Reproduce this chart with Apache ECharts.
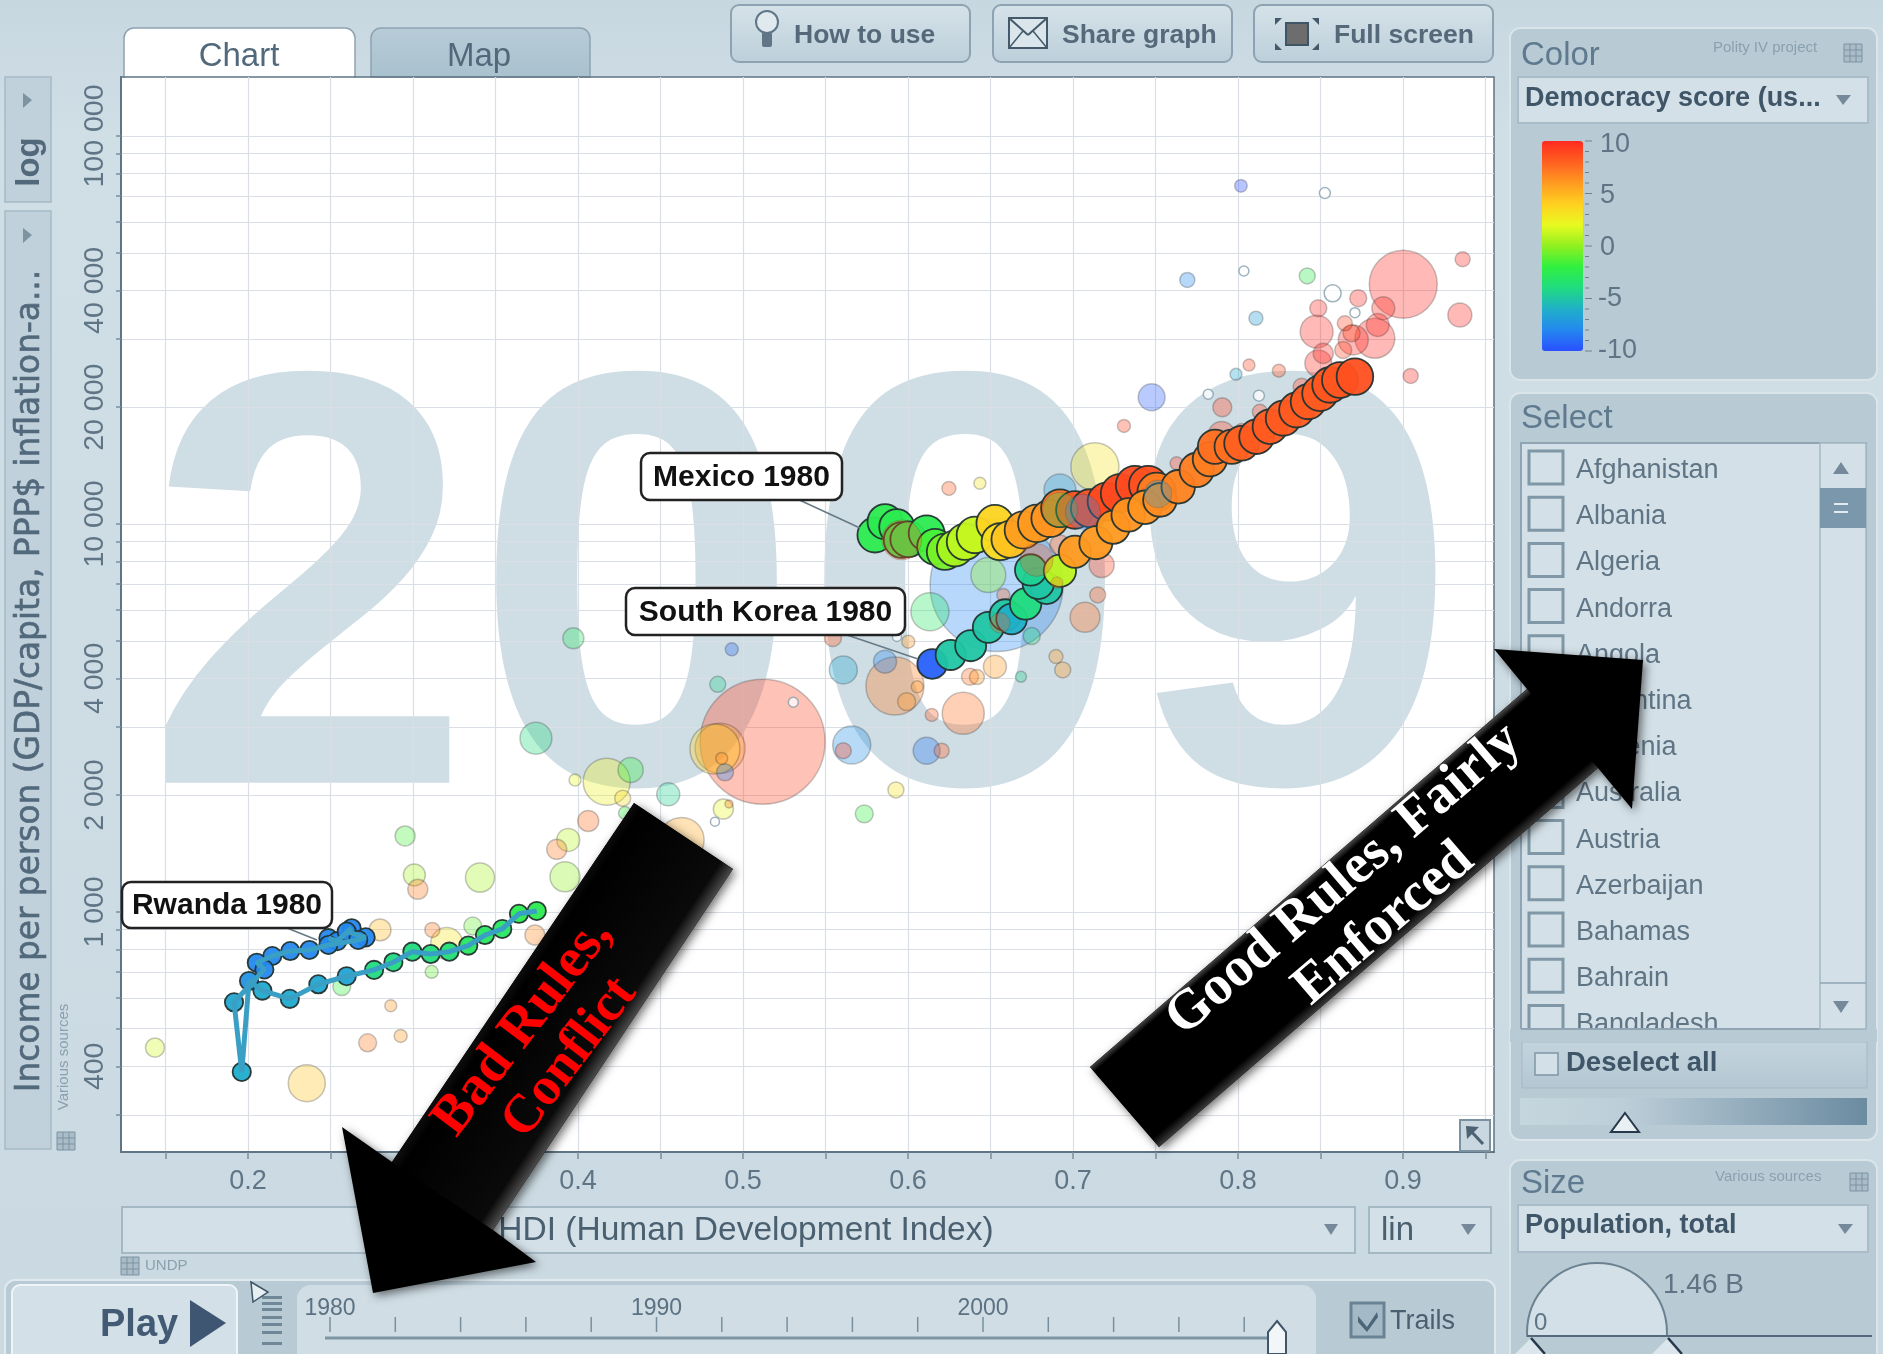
<!DOCTYPE html>
<html>
<head>
<meta charset="utf-8">
<title>Income per person vs HDI, 2009</title>
<style>html,body{margin:0;padding:0;background:#cddce4}#c{width:1883px;height:1354px}</style>
<script src="https://cdn.jsdelivr.net/npm/echarts@6/dist/echarts.min.js"></script>
</head>
<body>
<div id="c"></div>
<script>
// Every row: [HDI, income per person, democracy score, population in millions]
const mexicoTrail = [[.58,9369,-2.5,92],[.5861,10137,-2.5,92],[.5932,9839,-2.5,92],[.5962,9094,-2.5,96],[.6002,9130,-2.5,96],[.6113,9462,-2.5,96],[.6164,8737,-1.5,96],[.6224,8481,-.5,98],[.6285,8650,.5,98],[.6345,9000,1,98],[.6406,9369,1.2,100],[.6527,10035,3.8,102],[.6558,9000,3.5,102],[.6618,9130,4.5,102],[.6699,9650,5.8,104],[.678,10035,6,104],[.6861,10340,6.2,104],[.6921,10977,7.5,106],[.7012,10870,8.4,106],[.7103,10977,8.6,108],[.7204,11420,8.8,108],[.7285,11990,8.8,110],[.7376,12600,8.8,110],[.7456,12600,8.6,110],[.7507,12100,7,110]];
const southKoreaTrail = [[.6147,4357,-9.4,66],[.6259,4597,-5,68],[.638,4855,-5,72],[.6487,5415,-5,72],[.659,5826,-5,74],[.6628,5690,-6,70],[.6713,6220,-4,74],[.684,6825,-5,74],[.679,7031,-5,74],[.6744,7610,-4.5,74],[.6921,7578,1,78],[.7012,8481,6,78],[.7139,8948,6,82],[.7244,9804,6,82],[.7335,10550,6.2,84],[.7436,11040,6.2,84],[.7527,11530,6.5,84],[.7638,12470,6.8,84],[.775,13780,7,88],[.783,14680,7,88],[.7861,15810,7.5,88],[.7962,15810,7.5,88],[.8022,16140,8,90],[.8113,16790,8.2,90],[.8194,17810,8.2,90],[.8275,18730,8.2,92],[.8356,19670,8.2,92],[.8426,20660,8.2,92],[.8497,21700,8.2,94],[.8558,22810,8.4,94],[.8618,23500,8.4,96],[.8709,23970,8.6,100]];
const rwandaTrail = [[.2487,856,-8,25],[.2541,841,-8,25],[.2628,908,-8,25],[.2598,890,-8,25],[.2713,860,-8,25],[.2668,847,-8,25],[.2487,822,-8,25],[.2372,798,-8,25],[.2256,793,-8,25],[.2147,770,-8,25],[.2053,740,-8,25],[.2099,711,-8,25],[.1915,585,-6.4,25],[.1962,387,-6.2,25],[.2006,664,-7.5,25],[.2087,627,-6.3,25],[.2253,597,-6.3,25],[.2426,651,-6.5,25],[.2598,683,-6.6,25],[.2764,709,-4,25],[.2881,742,-4,25],[.2996,790,-4,25],[.3107,779,-3.8,25],[.322,790,-3.8,25],[.3335,819,-3,25],[.3436,872,-3,25],[.3541,904,-3,25],[.3642,989,-2.5,25],[.375,1006,-2.5,25]];
const democracyBubbles = [
 [.8018,74400,-10,12],[.7693,42550,-8,17],[.842,43580,-2.5,19],[.8729,38190,10,21.6],[.9002,41470,10,345],[.9362,48110,10,17],[.9345,34570,10,43],[.8487,35980,10,21.6],[.8477,31300,10,81],[.8881,35980,10,39],[.8847,32570,10,39],[.8648,32900,9,17],[.8689,30990,9,21.6],[.883,30100,10,119],[.8699,29800,10,67],[.8517,27520,10,30],[.8638,28080,9,21.6],[.8487,25940,10,54],[.8109,33900,-7,14.6],[.8067,25680,9,10.7],[.8248,24830,8.5,12.6],[.7988,24300,-6.5,10.7],[.9047,24070,10,17],[.7477,21210,-9.5,54],[.7905,19980,9,27],[.7309,17890,9,12.6],[.8133,19460,9,17],[.8386,22580,9,21.6],[.7901,16960,9,54],[.8022,17470,9,12.6],
 [.6248,12350,8,14.6],[.6436,12730,3,10.7],[.7133,14050,3,172],[.6921,12230,-7,76],[.6487,7385,0,91],[.6537,6960,-8,1320],[.6133,5940,-3,108],[.6002,4973,6,12.6],[.5608,4205,-6.5,58.5],[.5861,4417,-8,39.5],[.5921,3823,7,251],[.6056,3807,6,10.7],[.5992,3484,6,24],[.6144,3220,8,12.6],[.6335,3250,7.5,132],[.6527,4287,6,39.5],[.6376,4038,7.5,21.6],[.6418,4030,6,16.8],[.6685,4038,-4.5,9],[.6897,4551,6,14.6],[.6938,4205,6,19],[.7073,5748,7.5,67],[.715,6563,8,19],[.7174,7838,9,47],[.675,5144,-4,21.6],[.6578,6563,8,12.6],[.6921,8827,8,30],[.7628,14330,9,12.6],
 [.4932,4751,-9,12.6],[.4847,3861,-4.5,19],[.5119,2747,9,1166],[.4861,2641,6,187],[.483,2630,4,187],[.4871,2488,6.5,10.7],[.4891,2290,-8,21.6],[.5659,2693,-7.5,108],[.5608,2604,9,19],[.6113,2604,-8.5,54],[.6204,2604,8,16.8],[.5927,2063,3,19],[.5735,1790,-2,24],[.4881,1842,2,30],[.4915,1898,7,4.8],[.4628,1533,5.5,151],[.5545,5083,8,21.6],
 [.3972,5074,-3,33],[.3745,2803,-4,76],[.3982,2189,2,10.7],[.4174,2167,2.5,165],[.4319,2323,-2,47],[.4271,1964,3.5,19],[.4547,2010,-4.5,39.5],[.4062,1716,7.5,33],[.4285,1799,-2,12.6],[.3941,1533,1,39.5],[.3871,1450,7,30],[.3921,1232,0,67],[.2952,1570,-1.5,30],[.3008,1245,.5,36],[.3029,1144,7,30],[.3406,1226,.5,63],
 [.1436,447,1.5,27],[.2356,362,4.5,102],[.28,899,5,36],[.3117,899,7,16.8],[.3204,830,3,76],[.3362,920,-1,24],[.3113,701,-1,12.6],[.2568,642,-2,24],[.2865,573,6,10.7],[.2925,479,6,12.6],[.2725,460,7,24],[.3739,872,6.5,30]
];
const noScoreBubbles = [[.8527,71270,0,9],[.8036,44860,0,7.5],[.8574,39300,0,21.6],[.8709,35040,0,7.5],[.782,21590,0,7.5],[.8127,21410,0,9],[.5305,3471,0,7.5],[.483,1709,0,6],[.5933,5115,0,6]];
const frontBubbles = [[.5962,9094,8,119],[.6921,10870,-3,91],[.706,10750,-8,91],[.7515,11950,-7,58],[.6558,5560,8,30],[.6903,7050,7,10.7],[.678,8075,8,81]];
const xTickLabels = [0.2,0.3,0.4,0.5,0.6,0.7,0.8,0.9];
const xGridValues = [0.15,0.2,0.25,0.3,0.35,0.4,0.45,0.5,0.55,0.6,0.65,0.7,0.75,0.8,0.85,0.9,0.95];
const yTickLabels = [400,1000,2000,4000,10000,20000,40000,100000];
const yGridValues = [300,400,500,600,700,800,900,1000,2000,3000,4000,5000,6000,7000,8000,9000,10000,20000,30000,40000,50000,60000,70000,80000,90000,100000];
const colorScale = ['#2a50ff','#2488ef','#20b0c8','#20dc80','#30f040','#90f020','#e8fa20','#ffd020','#ff9a20','#ff6020','#ff2a20'];
const colorTicks = [10,5,0,-5,-10];
const selectCountries = ['Afghanistan','Albania','Algeria','Andorra','Angola','Argentina','Armenia','Australia','Austria','Azerbaijan','Bahamas','Bahrain','Bangladesh'];
const timeYears = [1980,1990,2000];

const SANS='"Liberation Sans",Arial,sans-serif', SERIF='"Liberation Serif","Times New Roman",serif';
const chart = echarts.init(document.getElementById('c'),null,{renderer:'canvas',width:1883,height:1354});
const LG=(x,y,x2,y2,stops,g)=>new echarts.graphic.LinearGradient(x,y,x2,y2,stops.map((c,i)=>({offset:c[0],color:c[1]})),g);
const R=(x,y,w,h,fill,o={})=>({type:'rect',silent:true,z:o.z??-5,shape:{x,y,width:w,height:h,r:o.r||0},style:{fill,stroke:o.stroke,lineWidth:o.lw||1,shadowBlur:o.sb||0,shadowColor:o.sc}});
const T=(x,y,text,size,color,o={})=>{const dy=(o.rot||(o.z||0)>=30)?0:2.5;return {type:'text',silent:true,z:o.z??-4,x,y:y+dy,rotation:o.rot||0,style:{text,x:0,y:0,fill:color,fontSize:size,fontFamily:o.ff||SANS,fontWeight:o.w||'normal',align:o.a||'left',verticalAlign:'middle',textAlign:o.a||'left',textVerticalAlign:'middle',stroke:o.stroke,lineWidth:o.slw||0,lineHeight:o.lh}};};
const P=(pts,fill,o={})=>({type:'polygon',silent:true,z:o.z??-4,shape:{points:pts},style:{fill,stroke:o.stroke,lineWidth:o.lw||1,shadowBlur:o.sb||0,shadowColor:o.sc,shadowOffsetX:o.ox||0,shadowOffsetY:o.oy||0}});
const L=(a,b,c,d,color,lw=1,z=-4)=>({type:'line',silent:true,z,shape:{x1:a,y1:b,x2:c,y2:d},style:{stroke:color,lineWidth:lw}});
const C=(x,y,r,fill,o={})=>({type:'circle',silent:true,z:o.z??-4,shape:{cx:x,cy:y,r},style:{fill,stroke:o.stroke,lineWidth:o.lw||1}});
const gridIcon=(x,y,z=-4)=>{const e=[R(x-9,y-9,18,18,'#aabcc8',{stroke:'#7d93a2',z})];for(let i=1;i<3;i++){e.push(L(x-9+6*i,y-9,x-9+6*i,y+9,'#7d93a2',1,z));e.push(L(x-9,y-9+6*i,x+9,y-9+6*i,'#7d93a2',1,z));}return e;};
const INK='#52697c', BOLD='#3f5568', FAINT='#8ba0ae', FIELD='#d3e0e7', PANEL='#b8cbd5';
const g=[];
// page
g.push(R(0,0,1883,1354,LG(0,0,0,1,[[0,'#c7d7e0'],[.1,'#d0dee6'],[1,'#cbdae2']]),{z:-10}));
// plot background + watermark
g.push(R(121,77,1373,1075,'#ffffff',{z:-9}));
g.push({type:'text',silent:true,z:-8,x:801,y:620,style:{text:'2009',x:0,y:0,fill:'#cfdde5',fontSize:590,fontFamily:SANS,fontWeight:'bold',align:'center',verticalAlign:'middle',textAlign:'center',textVerticalAlign:'middle'}});
// tabs
g.push(R(124,28,231,49,'#ffffff',{r:[10,10,0,0],stroke:'#8ea3b1',lw:1.5,z:-7}));
g.push(R(125,60,229,20,'#ffffff',{z:-7}));
g.push(T(239,54,'Chart',33,INK,{a:'center'}));
g.push(R(371,28,219,49,LG(0,0,0,1,[[0,'#b7ccd7'],[1,'#a9c1ce']]),{r:[10,10,0,0],stroke:'#8ea3b1',lw:1.5}));
g.push(T(479,54,'Map',33,INK,{a:'center'}));
// top buttons
[[731,239,'How to use',794],[993,239,'Share graph',1062],[1254,239,'Full screen',1334]].forEach(b=>{
 g.push(R(b[0],5,b[1],57,LG(0,0,0,1,[[0,'#d6e2e9'],[1,'#bccfda']]),{r:8,stroke:'#8ea3b1',lw:2}));
 g.push(T(b[3],33,b[2],26.5,'#55697a',{w:'bold'}));
});
g.push(C(767,22,11,'#dfe9ee',{stroke:'#607686',lw:2}));g.push(R(762,32,10,15,'#607686',{r:2,z:-3}));
g.push(R(1009,18,38,30,'#dbe6ec',{stroke:'#445a6a',lw:2}));g.push(L(1009,18,1028,35,'#445a6a',2));g.push(L(1047,18,1028,35,'#445a6a',2));g.push(L(1009,48,1023,31,'#445a6a',1.5));g.push(L(1047,48,1033,31,'#445a6a',1.5));
g.push(R(1286,23,22,22,'#6d6d6d',{stroke:'#3e5565',lw:2}));
[[1275,18,1],[1319,18,-1]].forEach(a=>{g.push(P([[a[0],a[1]],[a[0]+7*a[2],a[1]],[a[0],a[1]+7]],'#445a6a'));g.push(P([[a[0],a[1]+32],[a[0]+7*a[2],a[1]+32],[a[0],a[1]+25]],'#445a6a'));});
// y-axis side boxes
g.push(R(5,77,46,125,'#c0d1db',{stroke:'#a5bac6',lw:1.5}));
g.push(P([[23,93],[32,100],[23,108]],'#7d93a2'));
g.push(T(30,162,'log',33,INK,{rot:Math.PI/2,a:'center',w:'bold'}));
g.push(R(5,211,46,938,'#c0d1db',{stroke:'#a5bac6',lw:1.5}));
g.push(P([[23,228],[32,235],[23,243]],'#7d93a2'));
g.push(T(30,681,'Income per person (GDP/capita, PPP$ inflation-a...',32.8,INK,{rot:Math.PI/2,a:'center',ff:'"DejaVu Sans",sans-serif',stroke:INK,slw:.6}));
g.push(T(64,1057,'Various sources',15,FAINT,{rot:Math.PI/2,a:'center'}));
g.push(...gridIcon(66,1141));
// x selector
g.push(R(122,1207,1233,46,FIELD,{stroke:'#a5b9c5',lw:2}));
g.push(T(746,1228,'HDI (Human Development Index)',33.5,'#4a5f70',{a:'center'}));
g.push(P([[1324,1224],[1338,1224],[1331,1235]],'#75899a'));
g.push(R(1369,1207,122,46,FIELD,{stroke:'#a5b9c5',lw:2}));
g.push(T(1381,1228,'lin',33,'#4a5f70'));
g.push(P([[1461,1224],[1476,1224],[1468,1235]],'#75899a'));
g.push(...gridIcon(130,1266));
g.push(T(145,1263,'UNDP',15,FAINT));
// play bar
g.push(R(5,1280,1490,90,PANEL,{r:10,stroke:'#dfe9ee',lw:2}));
g.push(R(12,1285,225,80,FIELD,{r:8,stroke:'#eef4f7',lw:2}));
g.push(T(100,1323,'Play',38,'#435a74',{w:'bold'}));
g.push(P([[190,1300],[226,1323],[190,1347]],'#3f5672'));
[1296,1302,1308,1316,1323,1331,1342].forEach(y=>g.push(R(262,y,20,3,'#6f8796')));
g.push(P([[251,1282],[268,1292],[253,1302]],'#e7eff3',{stroke:'#3f5568',lw:1.5,z:-3}));
g.push(R(297,1285,1019,80,'#d0dde5',{r:14}));
timeYears.forEach((y,i)=>g.push(T(330+i*326.5,1306,String(y),23,'#5c7182',{a:'center'})));
for(let i=0;i<15;i++){const x=330+i*65.3;g.push(L(x,1317,x,1332,'#7a8f9d',1.5));}
g.push(L(325,1338,1277,1338,'#7e96a4',3));
g.push(P([[1277,1321],[1286,1332],[1286,1354],[1268,1354],[1268,1332]],'#f2f6f8',{stroke:'#3f5568',lw:2,z:-3}));
g.push(R(1351,1303,33,34,'#a4b9c6',{stroke:'#6a8394',lw:3}));
g.push(P([[1358,1316],[1367,1327],[1377,1312],[1378,1317],[1367,1332],[1358,1322]],'#4c6679',{z:-3}));
g.push(T(1390,1319,'Trails',27,'#4a5f70'));
// color panel
g.push(R(1510,28,367,352,PANEL,{r:10,stroke:'#dae5ea',lw:2}));
g.push(T(1521,53,'Color',33,'#5f7a8e'));
g.push(T(1713,45,'Polity IV project',15,FAINT));
g.push(...gridIcon(1853,53));
g.push(R(1518,77,350,46,FIELD,{stroke:'#a9bcc8',lw:2}));
g.push(T(1525,96,'Democracy score (us...',27,BOLD,{w:'bold'}));
g.push(P([[1836,95],[1851,95],[1843,105]],'#75899a'));
for(let i=0;i<=20;i++){const y=141+i*10.5;g.push(L(1585,y,i%5==0?1592:1589,y,'#6d8291',1));}
colorTicks.forEach((v,i)=>g.push(T(v<0?1598:1600,142+i*51.5,String(v),27,'#5f7484')));
// select panel
g.push(R(1510,393,367,747,PANEL,{r:10,stroke:'#dae5ea',lw:2}));
g.push(T(1521,416,'Select',33,'#5f7a8e'));
g.push(R(1521,443,345,586,FIELD,{stroke:'#8fa5b3',lw:2}));
selectCountries.forEach((c,i)=>{const y=468+i*46.2;g.push(R(1529,y-17,34,33,'#d3e0e7',{stroke:'#7f97a6',lw:3}));g.push(T(1576,y,c,27,'#5f7484'));});
g.push(R(1510,1029,367,13,PANEL,{z:-3}));
g.push(L(1521,1029,1866,1029,'#8fa5b3',2,-3));
g.push(R(1820,443,46,586,FIELD,{stroke:'#a5b9c5',lw:1.5,z:-3}));
g.push(P([[1833,474],[1849,474],[1841,462]],'#75899a',{z:-2}));
g.push(R(1820,488,46,40,'#7b97ab',{z:-2}));g.push(L(1834,504,1848,504,'#e2ebf0',2,-1));g.push(L(1834,512,1848,512,'#e2ebf0',2,-1));
g.push(L(1820,983,1866,983,'#8fa5b3',1.5,-2));
g.push(P([[1833,1001],[1849,1001],[1841,1013]],'#75899a',{z:-2}));
g.push(R(1522,1042,345,46,LG(0,0,0,1,[[0,'#c4d4dd'],[1,'#b3c7d2']]),{stroke:'#a5b9c5'}));
g.push(R(1535,1053,23,22,'#d3e0e7',{stroke:'#7f97a6',lw:1.5}));
g.push(T(1566,1061,'Deselect all',27.5,BOLD,{w:'bold'}));
g.push(R(1520,1098,347,27,LG(0,0,1,0,[[0,'#c6d6de'],[.3,'#bcced8'],[1,'#6b8ba1']])));
g.push(P([[1625,1113],[1639,1132],[1611,1132]],'#e9f0f4',{stroke:'#26384a',lw:2,z:-3}));
// size panel
g.push(R(1510,1160,367,210,PANEL,{r:10,stroke:'#dae5ea',lw:2}));
g.push(T(1521,1181,'Size',33,'#5f7a8e'));
g.push(T(1715,1174,'Various sources',15,FAINT));
g.push(...gridIcon(1859,1182));
g.push(R(1518,1205,350,47,FIELD,{stroke:'#a9bcc8',lw:2}));
g.push(T(1525,1223,'Population, total',27,BOLD,{w:'bold'}));
g.push(P([[1838,1224],[1853,1224],[1845,1234]],'#75899a'));
g.push(C(1597,1333,70,FIELD,{stroke:'#6d8291',lw:2}));
g.push(R(1512,1337,360,30,PANEL,{z:-3}));
g.push(L(1527,1336,1872,1336,'#55697a',2,-2));
g.push(T(1663,1283,'1.46 B',28,'#5f7484',{z:-2}));
g.push(T(1534,1321,'0',24,'#5f7484',{z:-2}));
[1531,1668].forEach(x=>{g.push(P([[x,1338],[x+16,1354],[x-16,1354]],'#dbe6ec',{z:-2}));g.push(L(x,1338,x+14,1354,'#26384a',2.5,-1));});
// corner icon
g.push(R(1460,1120,30,31,'#c9d8e0',{stroke:'#7b919f',lw:2,z:20}));
g.push(L(1468,1128,1483,1144,'#4d6374',3,21));g.push(P([[1466,1126],[1479,1127],[1467,1139]],'#4d6374',{z:21}));
// callouts
const callout=(x,y,w,h,text,lx1,ly1,lx2,ly2)=>{g.push(L(lx1,ly1,lx2,ly2,'#667a86',1.5,30));g.push(R(x,y,w,h,'#ffffff',{r:9,stroke:'#222',lw:2.5,z:31}));g.push(T(x+w/2,y+h/2+1,text,30,'#111',{a:'center',w:'bold',z:32}));};
callout(641,453,201,47,'Mexico 1980',795,498,860,528);
callout(626,588,279,47,'South Korea 1980',847,635,918,659);
callout(122,882,210,46,'Rwanda 1980',287,928,317,940);
// arrows: a black silhouette with its shadow, then the lit shaft
const shadow={sb:10,sc:'rgba(0,0,0,.55)',ox:3,oy:3,z:40};
g.push(P([[634,803],[733,869],[493,1230],[536,1262],[373,1293],[342,1127],[392,1162]],'#000',shadow));
g.push(P([[634,803],[733,869],[493,1230],[392,1162]],LG(634,803,733,869,[[0,'#0c0c0c'],[.08,'#000'],[.88,'#0a0a0a'],[1,'#4a4a4a']],true),{z:40}));
g.push(P([[1643,660],[1632,809],[1598,768],[1159,1147],[1090,1067],[1527,689],[1494,649]],'#000',shadow));
g.push(P([[1598,768],[1159,1147],[1090,1067],[1527,689]],LG(1090,1067,1159,1147,[[0,'#444'],[.06,'#000'],[.9,'#000'],[1,'#3a3a3a']],true),{z:40}));
g.push(T(523,1027,'Bad Rules,',56,'#ff0000',{rot:.92,a:'center',w:'bold',ff:SERIF,z:41}));
g.push(T(570,1058,'Conflict',54,'#ff0000',{rot:.92,a:'center',w:'bold',ff:SERIF,z:41}));
g.push(T(1344,880,'Good Rules, Fairly',55.5,'#ffffff',{rot:.71,a:'center',w:'bold',ff:SERIF,z:41}));
g.push(T(1384,924,'Enforced',55.5,'#ffffff',{rot:.71,a:'center',w:'bold',ff:SERIF,z:41}));

const bySize=a=>a.slice().sort((p,q)=>q[3]-p[3]);
const size=v=>3.66*Math.sqrt(v[3]);
const pale={opacity:.33,borderColor:'rgba(40,40,40,.8)',borderWidth:1.5};
const trail={opacity:.95,borderColor:'#233330',borderWidth:1.8};
const scatter=(name,data,itemStyle)=>({name,type:'scatter',data,symbolSize:size,itemStyle,animation:false,silent:true});
const series=[
 scatter('Countries',bySize(democracyBubbles),pale),
 {name:'No score',type:'scatter',data:bySize(noScoreBubbles),symbolSize:size,animation:false,silent:true,itemStyle:{color:'#ffffff',opacity:.75,borderColor:'#7f9aa8',borderWidth:1.5}},
 {name:'Rwanda path',type:'line',data:rwandaTrail,symbol:'none',animation:false,silent:true,lineStyle:{color:'#3a9fc4',width:5}},
 scatter('Mexico',mexicoTrail,trail),
 scatter('South Korea',southKoreaTrail,trail),
 scatter('Rwanda',rwandaTrail,trail),
 scatter('Front',frontBubbles,{opacity:.3,borderColor:'rgba(40,40,40,.6)',borderWidth:1})
];
chart.setOption({
 animation:false,
 backgroundColor:'transparent',
 textStyle:{fontFamily:SANS},
 grid:{left:121,top:77,width:1373,height:1075,show:true,borderColor:'#5f7484',borderWidth:1.5,backgroundColor:'transparent',z:0},
 xAxis:{type:'value',min:.123,max:.9552,
  axisLine:{lineStyle:{color:'#5f7484',width:2}},
  axisTick:{customValues:xGridValues,length:7,lineStyle:{color:'#7a8f9d',width:1.5}},
  axisLabel:{customValues:xTickLabels,formatter:v=>v.toFixed(1),fontSize:27,color:'#5f7484',margin:16,fontFamily:SANS},
  splitLine:{show:true,lineStyle:{color:'#dadfe5',width:1.2}}},
 yAxis:{type:'log',logBase:10,min:240.6,max:141900,
  axisLine:{show:true,lineStyle:{color:'#5f7484',width:2}},
  axisTick:{show:true,customValues:yGridValues,length:5,lineStyle:{color:'#7a8f9d',width:1.5}},
  axisLabel:{customValues:yTickLabels,rotate:90,formatter:v=>String(Math.round(v)).replace(/\B(?=(\d{3})+$)/g,' '),fontSize:28.5,color:'#5f7484',margin:11,fontFamily:SANS},
  splitLine:{show:true,lineStyle:{color:'#dadfe5',width:1.2}},minorSplitLine:{show:false}},
 visualMap:{type:'continuous',seriesIndex:[0,3,4,5,6],dimension:2,min:-10,max:10,left:1542,top:141,itemWidth:41,itemHeight:210,text:['',''],calculable:false,realtime:false,inRange:{color:colorScale},hoverLink:false,padding:0},
 graphic:{elements:g},
 series
});
</script>
</body>
</html>
